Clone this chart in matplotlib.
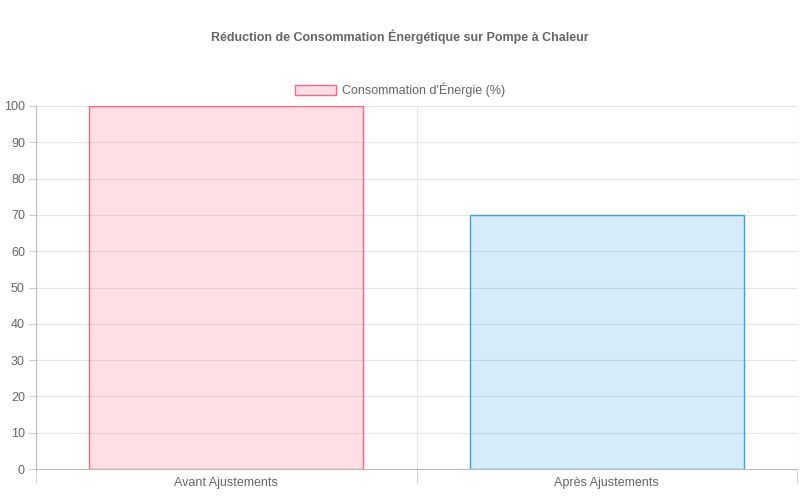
import matplotlib
matplotlib.use("Agg")
import matplotlib.pyplot as plt
from matplotlib.patches import Patch

categories = ["Avant Ajustements", "Après Ajustements"]
values = [100, 70]
series_label = "Consommation d'Énergie (%)"
title = "Réduction de Consommation Énergétique sur Pompe à Chaleur"

plt.rcParams['font.family'] = ['Liberation Sans', 'DejaVu Sans']
fills = [(1, 99/255, 132/255, 0.2), (54/255, 162/255, 235/255, 0.2)]
edges = [(1, 99/255, 132/255), (54/255, 162/255, 235/255)]

fig = plt.figure(figsize=(8, 5), dpi=100)
ax = fig.add_axes([0.045, 0.062, 0.9513 , 0.726])
x = list(range(len(categories)))
ax.bar(x, values, width=0.72, color=fills, edgecolor=edges, linewidth=1)
ax.set_xlim(-0.5, len(categories) - 0.5)
ax.set_ylim(0, 100)
ax.set_yticks(range(0, 101, 10))
ax.set_xticks(x)
ax.set_xticklabels(categories)
ax.set_xticks([-0.5, 0.5, 1.5], minor=True)
ax.grid(True, which='major', axis='y', color='#e5e5e5', linewidth=0.8)
ax.grid(True, which='minor', axis='x', color='#e5e5e5', linewidth=0.8)
ax.set_axisbelow(True)
ax.tick_params(axis='x', which='major', length=0, pad=6, labelsize=9, labelcolor='#666')
ax.tick_params(axis='x', which='minor', length=10, color='#ccc')
ax.tick_params(axis='y', length=5, color='#ccc', labelsize=9, labelcolor='#666', pad=3)
for s in ['top', 'right']:
    ax.spines[s].set_visible(False)
for s in ['left', 'bottom']:
    ax.spines[s].set_color('#bbb')

fig.text(0.5, 0.926, title, ha='center', va='center', fontsize=9, fontweight='bold', color='#666')
fig.legend(handles=[Patch(facecolor=fills[0], edgecolor=edges[0], label=series_label)],
           loc='center', bbox_to_anchor=(0.5, 0.82), frameon=False, fontsize=9,
           labelcolor='#666', handlelength=3.3, handleheight=0.9, handletextpad=0.5)
fig.savefig("out.png", dpi=100)
